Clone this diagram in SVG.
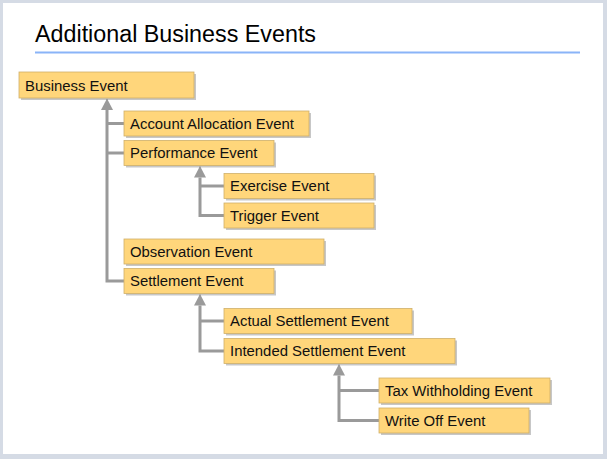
<svg xmlns="http://www.w3.org/2000/svg" width="607" height="459" viewBox="0 0 607 459">
<style>
.frame{fill:#d5dbe5}
.page{fill:#ffffff}
.title{font-family:"Liberation Sans",Arial,sans-serif;font-size:23.3px;fill:#000}
.rule{stroke:#8ab4f8;stroke-width:2}
.shadow{fill:#000;opacity:0.22}
.box{fill:#ffd67b;stroke:#cfb06a;stroke-width:0.8}
.lbl{font-family:"Liberation Sans",Arial,sans-serif;font-size:14.9px;fill:#111}
.conn{fill:none;stroke:#9a9a9a;stroke-width:3}
</style>
<defs>
<marker id="arrow" markerUnits="userSpaceOnUse" markerWidth="12" markerHeight="12" refX="0" refY="6" orient="auto">
<path d="M0,0 L11.5,6 L0,12 Z" fill="#9a9a9a"/>
</marker>
</defs>
<rect class="frame" x="0" y="0" width="607" height="459"/>
<rect class="page" x="3" y="3" width="600" height="451"/>
<text class="title" x="35" y="42">Additional Business Events</text>
<line class="rule" x1="35" y1="52.5" x2="580" y2="52.5"/>

<g id="connectors">
<path class="conn" d="M124,281 H107 V110" marker-end="url(#arrow)"/>
<path class="conn" d="M107,123.5 H124"/>
<path class="conn" d="M107,153 H124"/>
<path class="conn" d="M224,215.5 H200 V177.5" marker-end="url(#arrow)"/>
<path class="conn" d="M200,186 H224"/>
<path class="conn" d="M224,351 H200 V305.5" marker-end="url(#arrow)"/>
<path class="conn" d="M200,321 H224"/>
<path class="conn" d="M379,420.5 H339 V375.5" marker-end="url(#arrow)"/>
<path class="conn" d="M339,390.5 H379"/>
</g>

<g id="business-event">
<rect class="shadow" x="21" y="74" width="175" height="26"/>
<rect class="box" x="19" y="72" width="175" height="26"/>
<text class="lbl" x="25" y="90.5">Business Event</text>
</g>
<g id="account-allocation-event">
<rect class="shadow" x="126" y="113" width="185" height="25"/>
<rect class="box" x="124" y="111" width="185" height="25"/>
<text class="lbl" x="130" y="128.8">Account Allocation Event</text>
</g>
<g id="performance-event">
<rect class="shadow" x="126" y="142.5" width="150" height="25"/>
<rect class="box" x="124" y="140.5" width="150" height="25"/>
<text class="lbl" x="130" y="158.3">Performance Event</text>
</g>
<g id="exercise-event">
<rect class="shadow" x="226" y="175.5" width="150" height="25"/>
<rect class="box" x="224" y="173.5" width="150" height="25"/>
<text class="lbl" x="230" y="191.3">Exercise Event</text>
</g>
<g id="trigger-event">
<rect class="shadow" x="226" y="205" width="150" height="25"/>
<rect class="box" x="224" y="203" width="150" height="25"/>
<text class="lbl" x="230" y="220.8">Trigger Event</text>
</g>
<g id="observation-event">
<rect class="shadow" x="126" y="241" width="200" height="25"/>
<rect class="box" x="124" y="239" width="200" height="25"/>
<text class="lbl" x="130" y="256.8">Observation Event</text>
</g>
<g id="settlement-event">
<rect class="shadow" x="126" y="270.5" width="150" height="25"/>
<rect class="box" x="124" y="268.5" width="150" height="25"/>
<text class="lbl" x="130" y="286.3">Settlement Event</text>
</g>
<g id="actual-settlement-event">
<rect class="shadow" x="226" y="310.5" width="188" height="25"/>
<rect class="box" x="224" y="308.5" width="188" height="25"/>
<text class="lbl" x="230" y="326.3">Actual Settlement Event</text>
</g>
<g id="intended-settlement-event">
<rect class="shadow" x="226" y="340.5" width="231" height="25"/>
<rect class="box" x="224" y="338.5" width="231" height="25"/>
<text class="lbl" x="230" y="356.3">Intended Settlement Event</text>
</g>
<g id="tax-withholding-event">
<rect class="shadow" x="381" y="380" width="171" height="25"/>
<rect class="box" x="379" y="378" width="171" height="25"/>
<text class="lbl" x="385" y="395.8">Tax Withholding Event</text>
</g>
<g id="write-off-event">
<rect class="shadow" x="381" y="410" width="150" height="25"/>
<rect class="box" x="379" y="408" width="150" height="25"/>
<text class="lbl" x="385" y="425.8">Write Off Event</text>
</g>
</svg>
